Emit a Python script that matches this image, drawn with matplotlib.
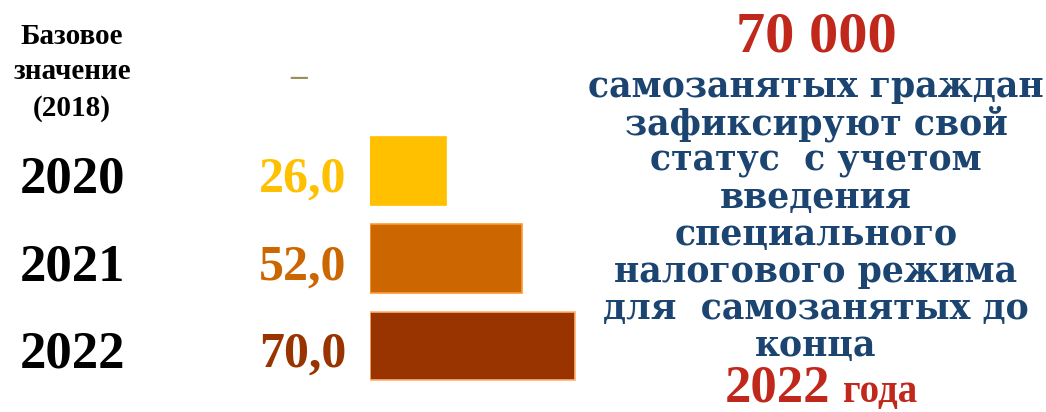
import matplotlib.pyplot as plt
import matplotlib.transforms as mtransforms

# Data
years = ["2020", "2021", "2022"]
values = [26.0, 52.0, 70.0]
value_labels = ["26,0", "52,0", "70,0"]
base_label = "Базовое\nзначение\n(2018)"
base_value = "–"
bar_colors = ["#FFC000", "#CC6600", "#993300"]
edge_colors = ["#FFC000", "#FF9933", "#FFB070"]

headline = "70 000"
body_lines = ["самозанятых граждан", "зафиксируют свой", "статус  с учетом",
              "введения", "специального", "налогового режима",
              "для  самозанятых до", "конца"]
tail_year = "2022"
tail_word = "года"

plt.rcParams['font.family'] = ['Liberation Serif', 'DejaVu Serif']
plt.rcParams['font.weight'] = 'bold'

W, H = 1046, 412
fig = plt.figure(figsize=(W / 100, H / 100), dpi=100)

# bar axes: pixel 370..600 horizontally, 30..400 vertically
ax = fig.add_axes([370 / W, 12 / H, 230 / W, 370 / H])
ax.set_xlim(0, 78.5)
ax.set_ylim(3.617, -0.611)
ax.axis('off')

rows = [1, 2, 3]
ax.barh(rows, values, height=0.78, color=bar_colors, edgecolor=edge_colors, linewidth=1.2)

blend = mtransforms.blended_transform_factory(fig.transFigure, ax.transData)

# base row
ax.text(72 / W, -0.13, base_label, transform=blend, ha='center', va='center',
        fontsize=21, linespacing=1.42, color='black')
ax.annotate(base_value, (0, -0.07), xytext=(-71, 0), textcoords='offset pixels',
            ha='center', va='center', fontsize=24, color='#9C8E5A', annotation_clip=False)

for r, yr, lab, c in zip(rows, years, value_labels, bar_colors):
    ax.text(72 / W, r + 0.1, yr, transform=blend, ha='center', va='center',
            fontsize=38, color='black')
    ax.annotate(lab, (0, r + 0.1), xytext=(-24, 0), textcoords='offset pixels',
                ha='right', va='center', fontsize=36, color=c, annotation_clip=False)

# right-hand text block
cx = 816 / W
red = '#C0281C'
blue = '#1B4470'
fig.text(cx, 1 - 37 / H, headline, ha='center', va='center', fontsize=42, color=red)
for i, line in enumerate(body_lines):
    y = 87 + 37 * i
    fig.text(cx, 1 - y / H, line, ha='center', va='center', fontsize=25,
             color=blue, family='DejaVu Serif')
fig.text(830 / W, 1 - 402 / H, tail_year, ha='right', va='baseline', fontsize=38, color=red)
fig.text(843 / W, 1 - 402 / H, tail_word, ha='left', va='baseline', fontsize=28, color=red)

fig.savefig("out.png", dpi=100)
